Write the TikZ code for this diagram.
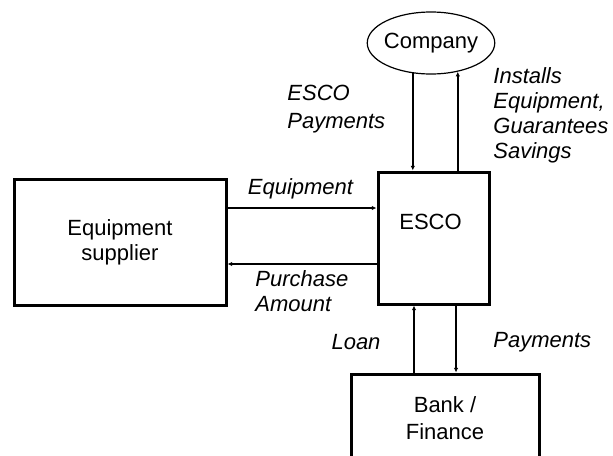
\documentclass[tikz,border=0pt]{standalone}
\usepackage{fontspec}
\setmainfont{Liberation Sans}
\usetikzlibrary{arrows.meta,shapes.geometric}
\tikzstyle{block} = [draw,line width=1.5pt,shape=rectangle,inner sep=0pt,align=center]
\tikzstyle{party} = [draw,line width=0.6pt,shape=ellipse,inner ysep=0pt,inner xsep=-1pt,minimum height=31pt]
\tikzstyle{flow} = [line width=0.8pt,-{Latex[length=2.3pt,width=2.2pt]}]
\tikzstyle{flabel} = [font=\itshape,inner sep=0pt,align=left]

\begin{document}
\fontsize{11}{12.5}\selectfont
\begin{tikzpicture}[x=0.5pt,y=-0.5pt]
\clip (0,0) rectangle (613,455);
\node[party] (company) at (431,43) {Company};
\node[block,minimum width=55.5pt,minimum height=66pt,
      label={[xshift=-1.5pt,yshift=8pt]center:ESCO}] (esco) at (433.5,238) {};
\node[block,minimum width=106pt,minimum height=63pt] (supplier) at (120,242) {Equipment\\supplier};
\node[block,minimum width=94pt,minimum height=44.5pt] (bank) at (445,418.5) {Bank /\\[1pt]Finance};

% company <-> esco
\draw[flow] (company.239) -- (company.239 |- esco.north);
\draw[flow] (esco.north -| company.313) -- (company.313);

% supplier <-> esco
\coordinate (eqout) at ([yshift=17pt]supplier.east);
\coordinate (payout) at ([yshift=-11pt]supplier.east);
\draw[flow] (eqout) -- (eqout -| esco.west);
\draw[flow] (payout -| esco.west) -- (payout);

% bank <-> esco
\coordinate (loanup) at ([xshift=-9.75pt]esco.south);
\coordinate (paydown) at ([xshift=11.25pt]esco.south);
\draw[flow] (loanup |- bank.north) -- (loanup);
\draw[flow] (paydown) -- (paydown |- bank.north);

\node[flabel,anchor=west] (escopay)  at (287,109)   {ESCO\\[1.5pt]Payments};
\node[flabel,anchor=west] (installs) at (493,115)   {Installs\\Equipment,\\Guarantees\\Savings};
\node[flabel]             (equiplbl) at (300.5,189) {Equipment};
\node[flabel,anchor=west] (purchase) at (255,291.5) {Purchase\\Amount};
\node[flabel]             (loanlbl)  at (356,342)   {Loan};
\node[flabel,anchor=west] (paylbl)   at (493,342)   {Payments};
\end{tikzpicture}
\end{document}
